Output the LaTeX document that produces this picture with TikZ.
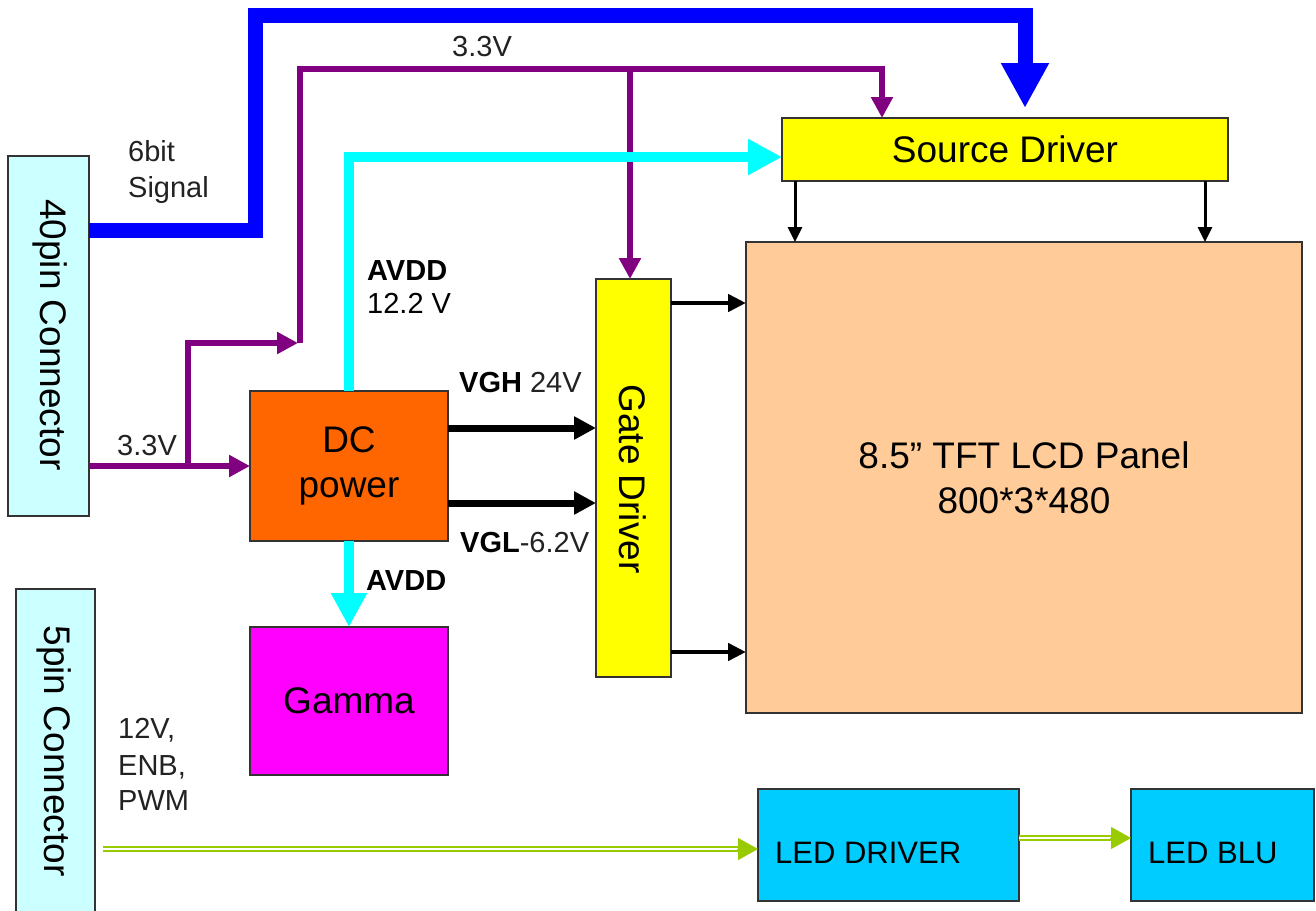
\documentclass[tikz,border=0pt]{standalone}
\usepackage{fontspec}
\setmainfont{Liberation Sans}
\usetikzlibrary{arrows.meta,calc}
\definecolor{conc}{HTML}{CCFFFF}
\definecolor{dcc}{HTML}{FF6600}
\definecolor{gamc}{HTML}{FF00FF}
\definecolor{drvc}{HTML}{FFFF00}
\definecolor{panc}{HTML}{FFCC99}
\definecolor{ledc}{HTML}{00CCFF}
\definecolor{busblue}{HTML}{0000FF}
\definecolor{purc}{HTML}{800080}
\definecolor{cyc}{HTML}{00FFFF}
\definecolor{grnc}{HTML}{99CC00}
\definecolor{labc}{HTML}{222222}
\tikzset{
  box/.style={draw=black!80, line width=1.3pt, inner sep=0pt, outer sep=0pt},
  bigtxt/.style={font=\fontsize{37}{45}\selectfont, inner sep=0pt, align=center},
  ledtxt/.style={font=\fontsize{31}{36}\selectfont, inner sep=0pt, anchor=base west},
  lab/.style={font=\fontsize{29}{35}\selectfont, text=labc, inner sep=0pt, anchor=base west},
  bluebus/.style={draw=busblue, line width=15pt, -{Triangle[length=45pt,width=45pt]}},
  purl/.style={draw=purc, line width=5.5pt, -{Triangle[length=21pt,width=21pt]}},
  cyl/.style={draw=cyc, line width=10pt, -{Triangle[length=34pt,width=34pt]}},
  blkthick/.style={draw=black, line width=7pt, -{Triangle[length=22pt,width=22pt]}},
  blkmid/.style={draw=black, line width=4.5pt, -{Triangle[length=18pt,width=17pt]}},
  blkthin/.style={draw=black, line width=3pt, -{Triangle[length=15pt,width=14pt]}},
  grnline/.style={draw=grnc, line width=2pt, double=white, double distance=2.2pt},
  grnhead/.style={draw=grnc, line width=1pt, -{Triangle[length=20pt,width=22pt]}},
}
\begin{document}
\begin{tikzpicture}[x=1pt,y=-1pt]
\useasboundingbox (0,0) rectangle (1316,910);
\fill[white] (0,0) rectangle (1316,910);

% boxes
\node[box, fill=conc, minimum width=81pt, minimum height=360pt] (con40) at (48.5,336) {};
\node[bigtxt, rotate=-90] (t40) at (50,335) {40pin Connector};
\node[box, fill=conc, minimum width=79pt, minimum height=330pt] (con5) at (55.5,754) {};
\node[bigtxt, rotate=-90] (t5) at (54,751) {5pin Connector};
\node[box, fill=dcc, minimum width=198pt, minimum height=150pt, bigtxt] (dc) at (349,466) {DC\\power};
\node[box, fill=gamc, minimum width=198pt, minimum height=148pt, bigtxt] (gamma) at (349,701) {Gamma};
\node[box, fill=drvc, minimum width=75pt, minimum height=398pt] (gate) at (633.5,478) {};
\node[bigtxt, rotate=-90] (tgate) at (633,479) {Gate Driver};
\node[box, fill=panc, minimum width=556pt, minimum height=471pt, bigtxt] (panel) at (1024,477.5) {8.5” TFT LCD Panel\\800*3*480};
\node[box, fill=drvc, minimum width=446pt, minimum height=63pt, bigtxt] (src) at (1005,149.5) {Source Driver};
\node[box, fill=ledc, minimum width=261pt, minimum height=112pt] (ledd) at (888.5,845) {};
\node[ledtxt] (tledd) at (775,863) {LED DRIVER};
\node[box, fill=ledc, minimum width=183pt, minimum height=112pt] (ledb) at (1222.5,845) {};
\node[ledtxt] (tledb) at (1148,863) {LED BLU};

% coordinates
\coordinate (b1) at (255,230);
\coordinate (b2) at (255,15);
\coordinate (b3) at (1025,15);
\coordinate (j1) at (188,466);
\coordinate (j1t) at (188,343);
\coordinate (j2) at (300,343);
\coordinate (p1) at (300,69);
\coordinate (p2) at (882,69);
\coordinate (pg) at (630,69);
\coordinate (cyt) at (349,157);
\coordinate (vgh) at (448,428);
\coordinate (vgl) at (448,503);
\coordinate (g1) at (671,303);
\coordinate (g2) at (671,652);
\coordinate (s1) at (795,181);
\coordinate (s2) at (1205,181);
\coordinate (gs) at (103,849);
\coordinate (gs2) at (1019,838);

% blue 6bit bus
\draw[bluebus, shorten >=10pt] (con40.east |- b1) -- (b1) -- (b2) -- (b3) -- (src.north -| b3);

% purple 3.3V
\draw[purl] (con40.east |- dc.west) -- (dc.west);
\draw[purl] (j1) -- (j1t) -- ($(j2)+(-2,0)$);
\draw[purl] (j2) -- (p1) -- (p2) -- (src.north -| p2);
\draw[purl] (pg) -- (gate.north -| pg);

% cyan AVDD
\draw[cyl] (dc.north) -- (cyt) -- (src.west |- cyt);
\draw[cyl] (dc.south) -- (gamma.north);

% VGH / VGL
\draw[blkthick] (dc.east |- vgh) -- (gate.west |- vgh);
\draw[blkthick] (dc.east |- vgl) -- (gate.west |- vgl);

% gate -> panel
\draw[blkmid] (gate.east |- g1) -- (panel.west |- g1);
\draw[blkmid] (gate.east |- g2) -- (panel.west |- g2);

% source -> panel
\draw[blkthin] (src.south -| s1) -- (panel.north -| s1);
\draw[blkthin] (src.south -| s2) -- (panel.north -| s2);

% green LED lines
\draw[grnline] (gs) -- ($(ledd.west |- gs)+(-19,0)$);
\draw[grnhead] ($(ledd.west |- gs)+(-21,0)$) -- (ledd.west |- gs);
\draw[grnline] (ledd.east |- gs2) -- ($(ledb.west |- gs2)+(-19,0)$);
\draw[grnhead] ($(ledb.west |- gs2)+(-21,0)$) -- (ledb.west |- gs2);

% labels
\node[lab] (l6bit) at (128,161) {6bit};
\node[lab] (lsig) at (128,197) {Signal};
\node[lab] (l33t) at (452,56) {3.3V};
\node[lab] (l33l) at (117,455) {3.3V};
\node[lab, text=black] (lavdd1) at (367,280) {\textbf{AVDD}};
\node[lab, text=black] (l122) at (367,313) {12.2 V};
\node[lab] (lvgh) at (459,392) {\textcolor{black}{\textbf{VGH}} 24V};
\node[lab] (lvgl) at (460,552) {\textcolor{black}{\textbf{VGL}}-6.2V};
\node[lab, text=black] (lavdd2) at (366,590) {\textbf{AVDD}};
\node[lab] (l12v) at (118,738) {12V,};
\node[lab] (lenb) at (118,775) {ENB,};
\node[lab] (lpwm) at (118,810) {PWM};
\end{tikzpicture}
\end{document}
